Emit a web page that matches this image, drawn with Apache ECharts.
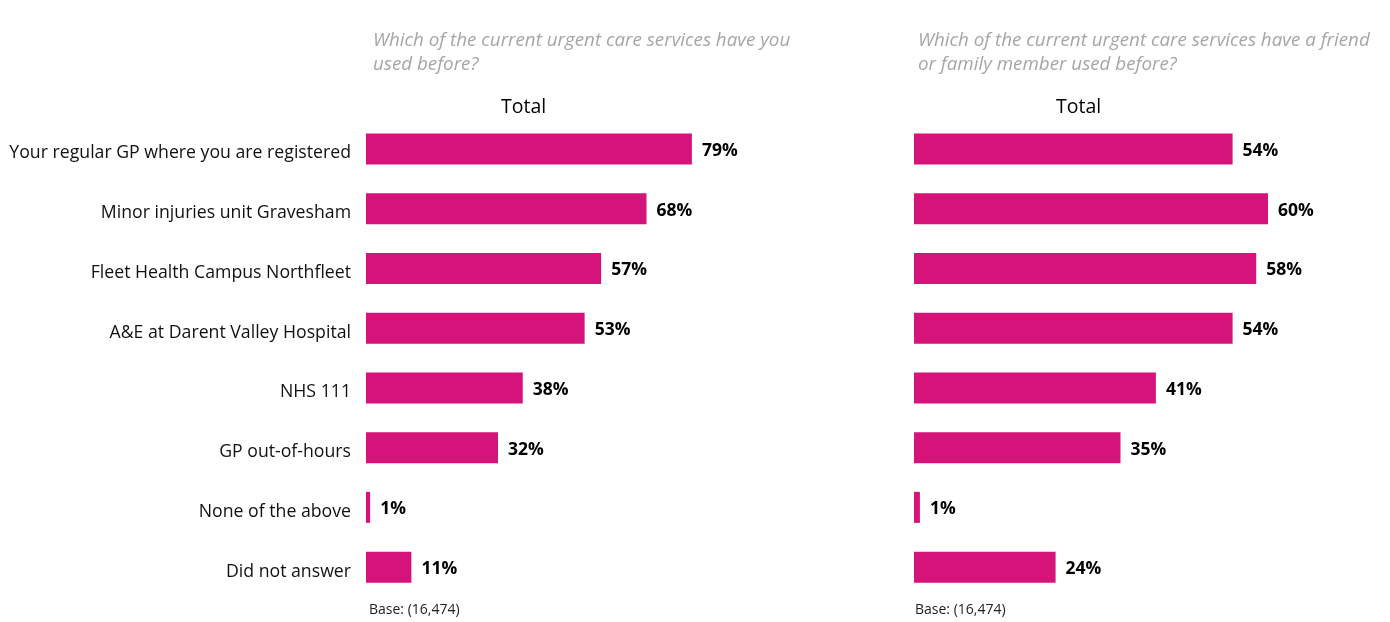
<!DOCTYPE html>
<html>
<head>
<meta charset="utf-8">
<script src="https://cdn.jsdelivr.net/npm/echarts@6/dist/echarts.min.js"></script>
<style>
  html, body { margin: 0; padding: 0; background: #fff; }
  #chart { width: 1390px; height: 622px; }
</style>
</head>
<body>
<div id="chart"></div>
<script>
const categories = [
  "Your regular GP where you are registered",
  "Minor injuries unit Gravesham",
  "Fleet Health Campus Northfleet",
  "A&E at Darent Valley Hospital",
  "NHS 111",
  "GP out-of-hours",
  "None of the above",
  "Did not answer"
]
const usedSelf = [79, 68, 57, 53, 38, 32, 1, 11]
const usedFriendFamily = [54, 60, 58, 54, 41, 35, 1, 24]

const barColor = "#D6137A"
const font = "'Open Sans', sans-serif"

const chart = echarts.init(document.getElementById("chart"))

const valueLabel = {
  show: true,
  position: "right",
  distance: 10,
  offset: [0, 2],
  formatter: "{c}%",
  color: "#000",
  fontWeight: "bold",
  fontSize: 17.5,
  fontFamily: font
}

// question titles in grey italics above each panel
const questionStyle = {
  color: "#A6A6A6", fontStyle: "italic", fontWeight: "normal",
  fontSize: 18.8, lineHeight: 24, fontFamily: font
}

chart.setOption({
  backgroundColor: "#fff",
  title: [
    {
      text: "Which of the current urgent care services have you\nused before?",
      left: 368, top: 24, textStyle: questionStyle
    },
    {
      text: "Which of the current urgent care services have a friend\nor family member used before?",
      left: 913, top: 24, textStyle: questionStyle
    },
    {
      text: "Total", left: 496, top: 92,
      textStyle: { color: "#000", fontWeight: "normal", fontSize: 19.5, fontFamily: font }
    },
    {
      text: "Total", left: 1051, top: 92,
      textStyle: { color: "#000", fontWeight: "normal", fontSize: 19.5, fontFamily: font }
    },
    {
      text: "Base: (16,474)", left: 364, top: 598,
      textStyle: { color: "#222", fontWeight: "normal", fontSize: 14, fontFamily: font }
    },
    {
      text: "Base: (16,474)", left: 910, top: 598,
      textStyle: { color: "#222", fontWeight: "normal", fontSize: 14, fontFamily: font }
    }
  ],
  grid: [
    { left: 366, top: 119, width: 330, height: 478 },
    { left: 914, top: 119, width: 472, height: 478 }
  ],
  xAxis: [
    { gridIndex: 0, type: "value", min: 0, max: 80, show: false },
    { gridIndex: 1, type: "value", min: 0, max: 80, show: false }
  ],
  yAxis: [
    {
      gridIndex: 0, type: "category", data: categories, inverse: true,
      axisLine: { show: false }, axisTick: { show: false },
      axisLabel: {
        margin: 15,
        formatter: v => "{c|" + v + "}",
        rich: { c: { color: "#111", fontSize: 17.7, fontFamily: font, padding: [9, 0, 0, 0] } }
      }
    },
    {
      gridIndex: 1, type: "category", data: categories, inverse: true,
      axisLine: { show: false }, axisTick: { show: false },
      axisLabel: { show: false }
    }
  ],
  series: [
    {
      type: "bar", xAxisIndex: 0, yAxisIndex: 0, data: usedSelf,
      barWidth: 31, itemStyle: { color: barColor }, label: valueLabel,
      silent: true
    },
    {
      type: "bar", xAxisIndex: 1, yAxisIndex: 1, data: usedFriendFamily,
      barWidth: 31, itemStyle: { color: barColor }, label: valueLabel,
      silent: true
    }
  ]
})

window.addEventListener("resize", () => chart.resize())
</script>
</body>
</html>
